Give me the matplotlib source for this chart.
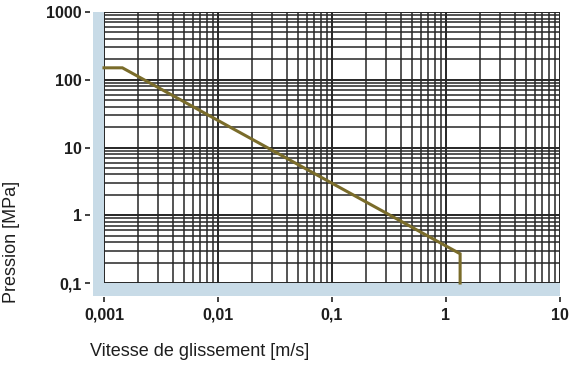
import numpy as np
import matplotlib
matplotlib.use("Agg")
import matplotlib.pyplot as plt
from matplotlib.patches import Rectangle

plt.rcParams['font.family'] = ['Liberation Sans', 'DejaVu Sans']

# Data
speed = [0.001, 0.00145, 1.33, 1.33]          # m/s
pressure = [150, 150, 0.27, 0.1]              # MPa
x_ticks = [0.001, 0.01, 0.1, 1, 10]
x_labels = ["0,001", "0,01", "0,1", "1", "10"]
y_ticks = [0.1, 1, 10, 100, 1000]
y_labels = ["0,1", "1", "10", "100", "1000"]

W, H = 569, 365
fig = plt.figure(figsize=(W/100, H/100), dpi=100)
L, R, T, B = 104, 560, 12, 283
ax = fig.add_axes([L/W, 1-B/H, (R-L)/W, (B-T)/H])
ax.set_xscale('log')
ax.set_yscale('log')
ax.set_xlim(x_ticks[0], x_ticks[-1])
ax.set_ylim(y_ticks[0], y_ticks[-1])
ax.set_facecolor('white')

# light blue L-band outside the grid
band = '#c8dbe7'
bw = 11/(R-L)
bh = 13/(B-T)
ax.add_patch(Rectangle((-bw, -bh), bw, 1+bh, transform=ax.transAxes,
                       facecolor=band, edgecolor='none', clip_on=False, zorder=0))
ax.add_patch(Rectangle((-bw, -bh), 1+bw, bh, transform=ax.transAxes,
                       facecolor=band, edgecolor='none', clip_on=False, zorder=0))

for s in ax.spines.values():
    s.set_visible(False)
ax.spines['left'].set_position(('outward', 14*0.72))
ax.spines['bottom'].set_position(('outward', 14*0.72))

xmin, xmax = x_ticks[0], x_ticks[-1]
ymin, ymax = y_ticks[0], y_ticks[-1]

# grid lines
xg_major = x_ticks
xg_minor = [m * d for d in x_ticks[:-1] for m in range(2, 10)]
yg_major = y_ticks
yg_minor = [m * d for d in y_ticks[:-1] for m in range(2, 10)]
gc = '#262626'
ax.vlines(xg_minor, ymin, ymax, colors=gc, linewidth=1.1, zorder=1)
ax.vlines(xg_major, ymin, ymax, colors=gc, linewidth=1.4, zorder=1)
ax.hlines(yg_minor, xmin, xmax, colors=gc, linewidth=1.1, zorder=1)
ax.hlines(yg_major, xmin, xmax, colors=gc, linewidth=1.4, zorder=1)

ax.plot(speed, pressure, color='#7a6c2a', linewidth=2.2, zorder=3,
        solid_joinstyle='miter', clip_on=False)

ax.set_xticks(x_ticks)
ax.set_xticklabels(x_labels)
ax.set_yticks(y_ticks)
ax.set_yticklabels(y_labels)
ax.minorticks_off()
ax.tick_params(axis='both', which='major', direction='out', length=3.8,
               width=1.3, color='#333333', labelsize=11.5, labelcolor='#1e1e1e')
ax.tick_params(axis='y', pad=2)
ax.tick_params(axis='x', pad=4)
for lbl in ax.get_xticklabels() + ax.get_yticklabels():
    lbl.set_fontweight('bold')

fig.text(90/W, 1-351/H, "Vitesse de glissement [m/s]", fontsize=13,
         color='#1e1e1e', ha='left', va='center')
fig.text(12/W, 1-242/H, "Pression [MPa]", fontsize=13, color='#1e1e1e',
         rotation=90, ha='center', va='center')

fig.savefig("out.png", dpi=100)
